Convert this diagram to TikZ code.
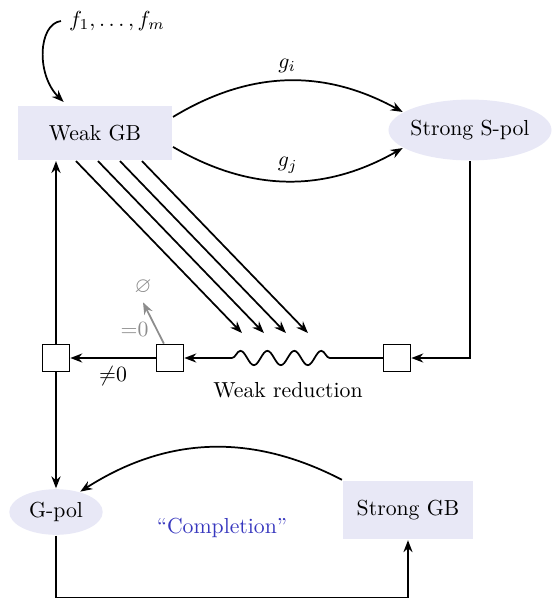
\documentclass[tikz,border=0pt]{standalone}
\usepackage{amsmath, amssymb}
\usepackage{tikz}
\usetikzlibrary{
  shapes.geometric,
  arrows.meta,
  decorations.pathmorphing,
  positioning
}
\definecolor{NodeFill}{RGB}{232, 232, 246}
\definecolor{ComplBlue}{RGB}{55, 55, 190}
\definecolor{MuteGray}{RGB}{140, 140, 140}
\tikzset{
  gbbox/.style={rectangle, fill=NodeFill, inner sep=0pt},
  polnode/.style={ellipse, fill=NodeFill, inner sep=0pt},
  redbox/.style={rectangle, draw, fill=white, minimum size=12.4pt, inner sep=0pt}
}

\begin{document}
\begin{tikzpicture}[x=0.46pt, y=-0.46pt, line width=0.8pt, >={Stealth[length=5.5pt, width=4.2pt]}]
  \useasboundingbox (0,0) rectangle (557,598);
  \node[gbbox, minimum width=71pt, minimum height=25pt] (weak) at (95,133) {Weak GB};
  \node[polnode, inner xsep=-1pt, minimum width=75pt, minimum height=28pt] (spol) at (470,130) {Strong S-pol};
  \node[polnode, minimum width=43pt, minimum height=21pt] (gpol) at (56,512) {G-pol};
  \node[gbbox, minimum width=60pt, minimum height=27pt] (sgb) at (408,510) {Strong GB};
  \node (fs) at (117,21) {$f_1,\dots,f_m$};
  \node[redbox] (boxl) at (56,358) {};
  \node[redbox] (boxm) at (170,358) {};
  \node[redbox] (boxr) at (397,358) {};
  \coordinate (wl) at (232,358);
  \coordinate (wr) at (340,358);
  \coordinate (bot) at (0,597.6);
  \node (wred) at (288,390) {Weak reduction};
  \node[MuteGray] (empty) at (143,287) {$\varnothing$};
  \node[ComplBlue] (compl) at (222,528) {``Completion''};

  \draw[->, shorten >=2pt] (fs.west) .. controls (38,24) and (36,75) .. ([xshift=-13pt]weak.north);
  \draw[->] ([yshift=7.4pt]weak.east) to[bend left=30] node[above] {$g_i$} (spol.165);
  \draw[->] ([yshift=-6.4pt]weak.east) to[bend right=30] node[above] {$g_j$} (spol.195);
  \foreach \s in {59,81,103,125}
    \draw[->] (weak.south west) ++(\s,0) -- ++(166,172);
  \draw[->] (spol.south) |- (boxr.east);
  \draw (boxr.west) -- (wr);
  \draw[decorate, decoration={snake, segment length=12.4pt, amplitude=3.3pt}] (wl) -- (wr);
  \draw[->] (wl) -- (boxm.east);
  \draw[->] (boxm.west) -- node[below] {${\neq}0$} (boxl.east);
  \draw[->, MuteGray] ([xshift=-2.8pt]boxm.north) -- node[pos=0.35, left] {${=}0$} (empty.south);
  \draw[->] (boxl.north) -- (boxl |- weak.south);
  \draw[->] (boxl.south) -- (gpol.north);
  \draw[->] (sgb.north west) to[bend right=30] (gpol.40);
  \draw[->] (gpol.south) -- (gpol.south |- bot) -| (sgb.south);
\end{tikzpicture}
\end{document}
